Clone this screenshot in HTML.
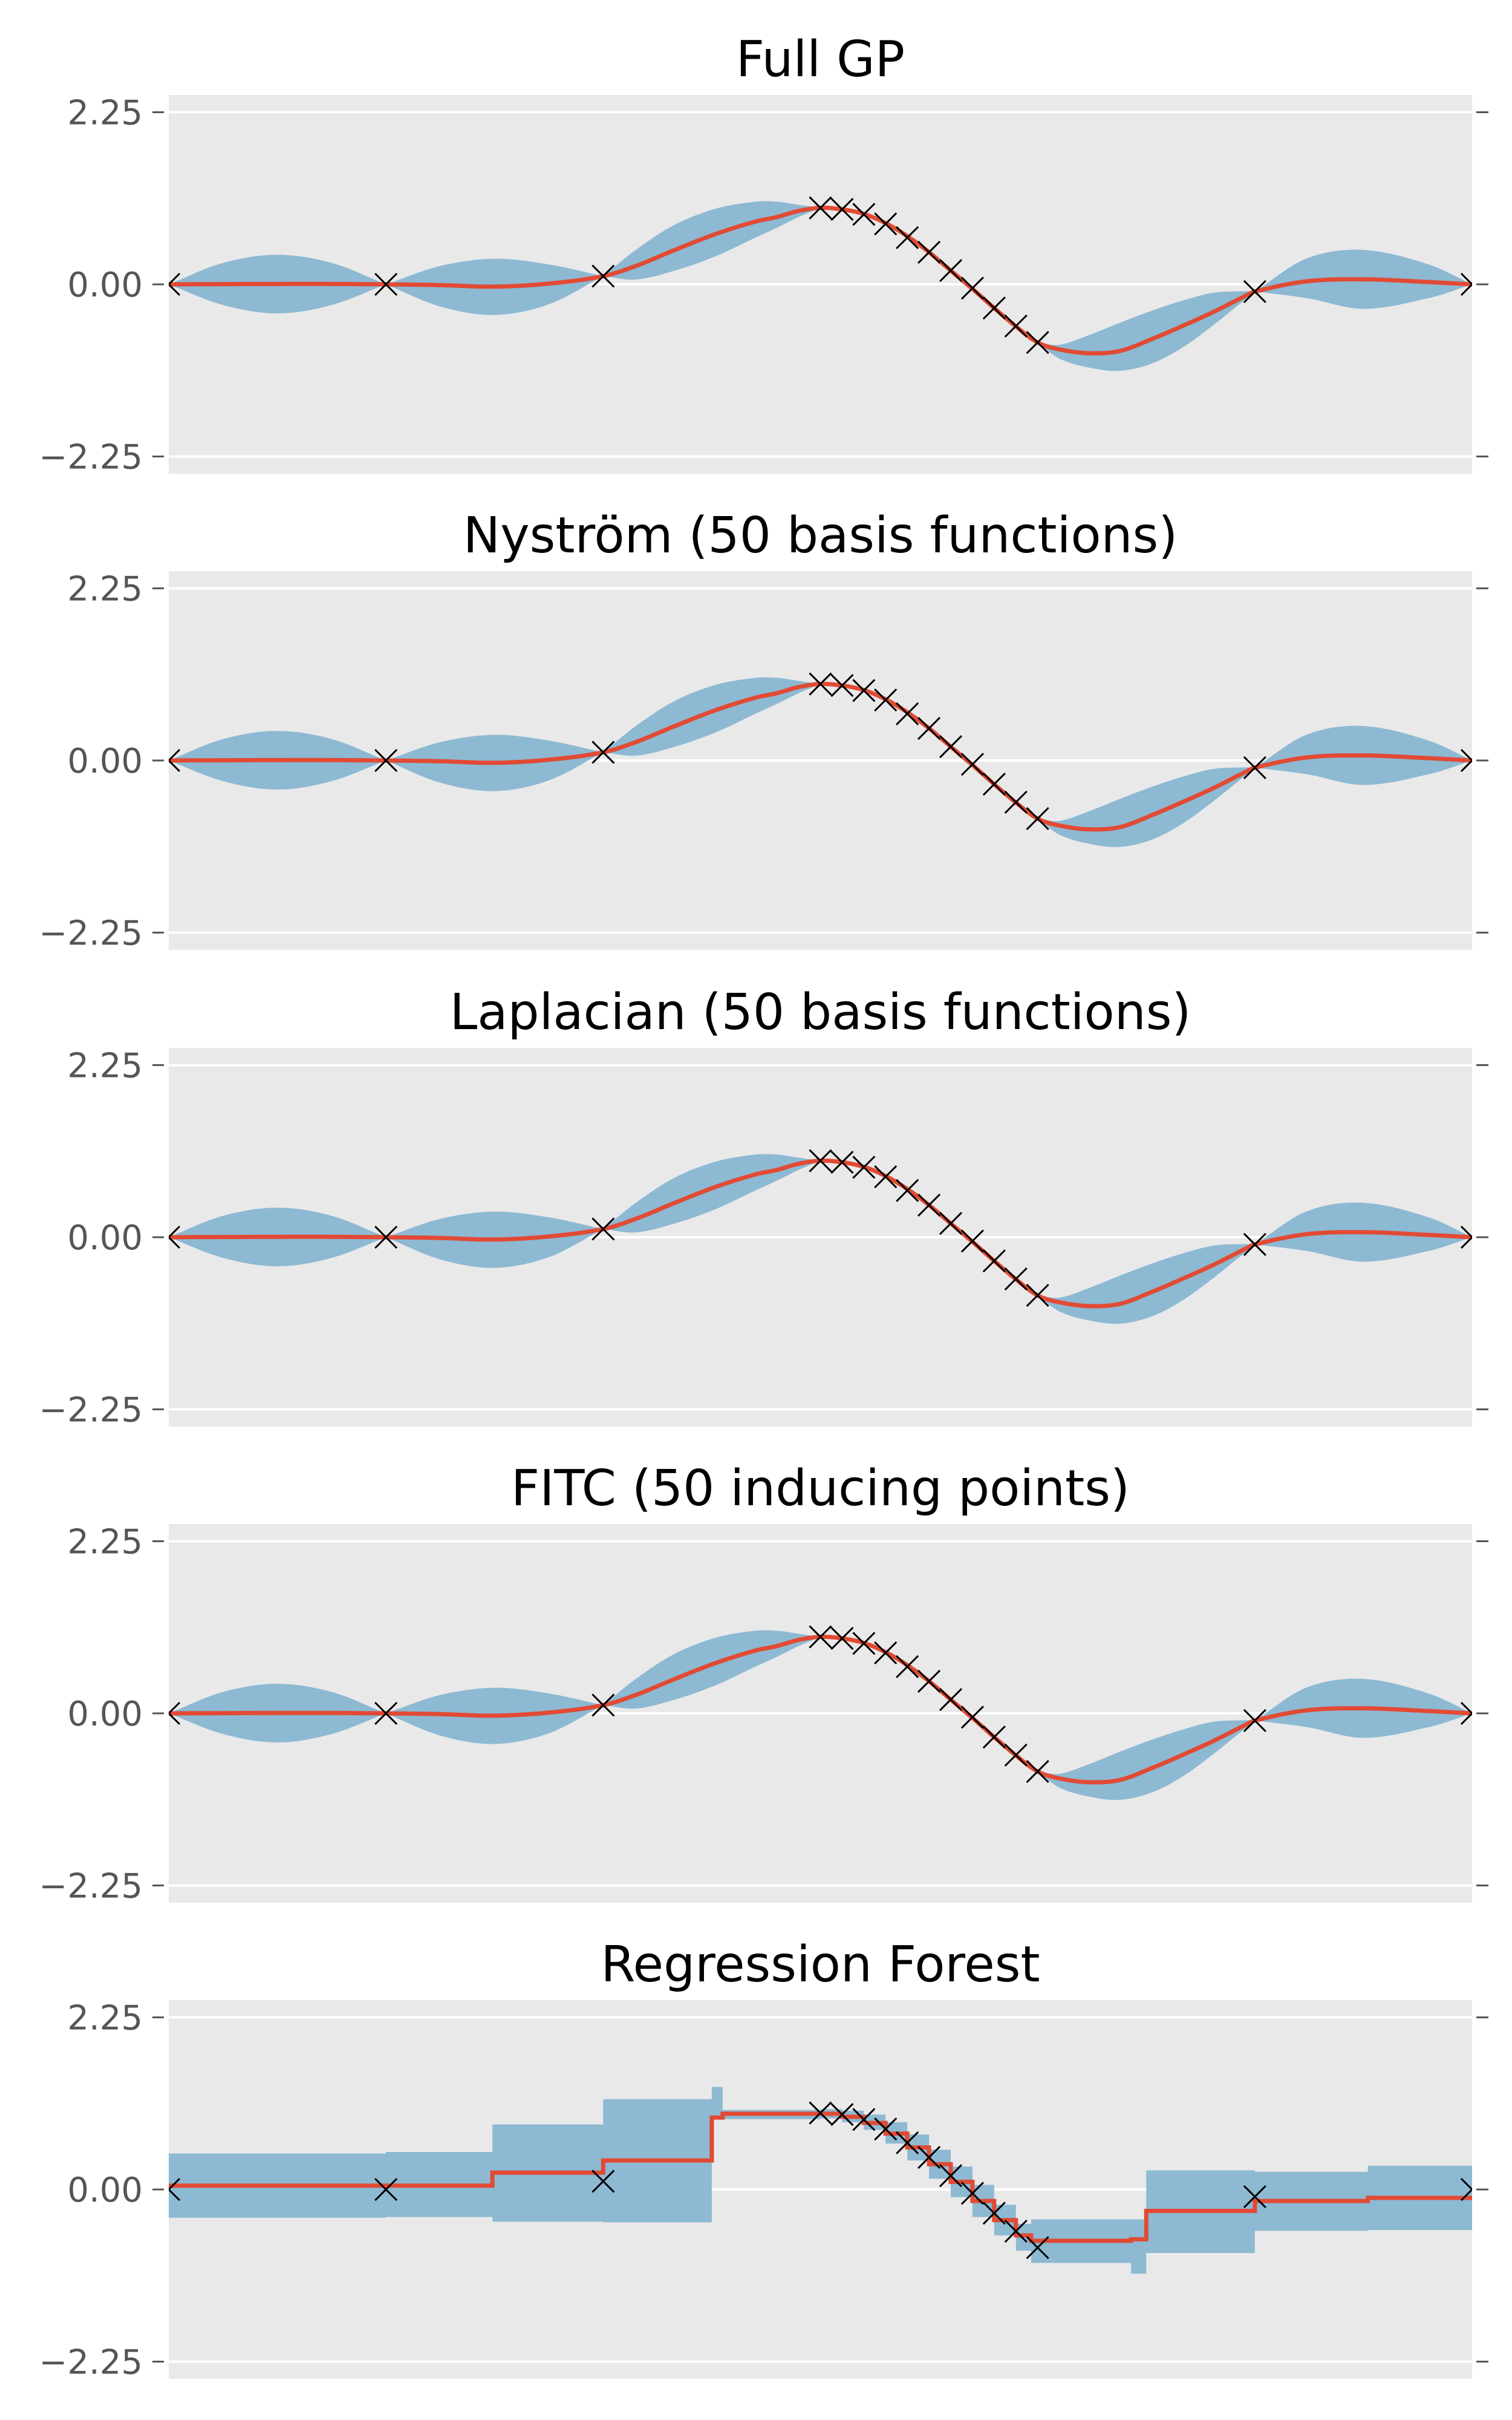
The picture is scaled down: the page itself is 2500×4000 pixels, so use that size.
<!DOCTYPE html>
<html><head><meta charset="utf-8"><style>
html,body{margin:0;padding:0;background:#fff;}
svg{display:block;}
text{font-family:"DejaVu Sans","Liberation Sans",sans-serif;}
</style></head>
<body>
<svg id="fig" width="2500" height="4000" viewBox="0 0 2500 4000" xmlns="http://www.w3.org/2000/svg"></svg>
<script>
// ---- data ----
const titles = ["Full GP","Nyström (50 basis functions)","Laplacian (50 basis functions)","FITC (50 inducing points)","Regression Forest"];
const yTicks = [2.25, 0.00, -2.25];
const yTickLabels = ["2.25","0.00","\u22122.25"];
const dataX = [0,1,2,3,3.1,3.2,3.3,3.4,3.5,3.6,3.7,3.8,3.9,4,5,6];
const dataY = [0,0,0.107,1.0,0.98,0.915,0.79,0.61,0.42,0.18,-0.05,-0.31,-0.545,-0.76,-0.094,0];
const gpX = [0,0.25,0.5,0.75,1,1.25,1.5,1.75,2,2.15,2.33,2.52,2.7,2.8,2.9,3,3.1,3.2,3.3,3.4,3.5,3.6,3.7,3.8,3.9,4,4.1,4.24,4.38,4.53,4.67,4.81,4.95,5,5.24,5.5,5.8,6];
const gpMean = [0,0.003,0.005,0.005,0,-0.01,-0.03,0.01,0.107,0.24,0.45,0.66,0.82,0.88,0.96,1.0,0.98,0.92,0.80,0.63,0.42,0.18,-0.06,-0.31,-0.55,-0.76,-0.85,-0.90,-0.87,-0.71,-0.54,-0.36,-0.16,-0.094,0.04,0.066,0.03,0];
const gpUpper = [0,0.28,0.386,0.28,0,0.24,0.335,0.26,0.107,0.45,0.78,0.99,1.08,1.08,1.04,1.0,0.98,0.92,0.80,0.63,0.42,0.18,-0.06,-0.31,-0.55,-0.76,-0.79,-0.66,-0.50,-0.34,-0.21,-0.11,-0.09,-0.094,0.34,0.45,0.26,0];
const gpLower = [0,-0.27,-0.38,-0.27,0,-0.29,-0.40,-0.26,0.107,0.063,0.18,0.37,0.61,0.74,0.88,1.0,0.98,0.92,0.80,0.63,0.42,0.18,-0.06,-0.31,-0.55,-0.76,-0.97,-1.09,-1.13,-1.03,-0.82,-0.53,-0.21,-0.094,-0.18,-0.32,-0.18,0];
const forestEdges = [0,1.0,1.49,2.0,2.5,2.55,3.0,3.1,3.2,3.3,3.4,3.5,3.6,3.7,3.8,3.9,3.97,4.43,4.5,5.0,5.52,6];
const forestMean = [0.05,0.05,0.22,0.38,0.94,0.99,0.99,0.95,0.87,0.73,0.55,0.33,0.10,-0.15,-0.40,-0.60,-0.67,-0.65,-0.28,-0.15,-0.11];
const forestUpper = [0.47,0.49,0.85,1.18,1.34,1.04,1.05,1.03,0.98,0.88,0.72,0.52,0.30,0.06,-0.20,-0.45,-0.39,-0.39,0.25,0.23,0.31];
const forestLower = [-0.37,-0.36,-0.42,-0.43,0.92,0.92,0.93,0.88,0.78,0.60,0.38,0.14,-0.10,-0.36,-0.60,-0.80,-0.96,-1.10,-0.83,-0.54,-0.53];

const NS="http://www.w3.org/2000/svg";
const svg=document.getElementById('fig');
const L=279,R=2434,H=626,tops=[157,944,1732,2519,3306];
const XMIN=0,XMAX=6,YLIM=2.475;
function mk(tag,attrs,parent){const e=document.createElementNS(NS,tag);for(const k in attrs)e.setAttribute(k,attrs[k]);(parent||svg).appendChild(e);return e;}
function sx(v){return L+(v-XMIN)/(XMAX-XMIN)*(R-L);}
// cubic Hermite sampling of (xs,ys) over index range [a,b]
function sampleSeg(xs,ys,a,b,per){
  const out=[];const m=[];
  for(let i=a;i<=b;i++){
    if(i===a)m.push((ys[a+1]-ys[a])/(xs[a+1]-xs[a]));
    else if(i===b)m.push((ys[b]-ys[b-1])/(xs[b]-xs[b-1]));
    else m.push((ys[i+1]-ys[i-1])/(xs[i+1]-xs[i-1]));
  }
  for(let i=a;i<b;i++){
    const h=xs[i+1]-xs[i],m0=m[i-a],m1=m[i+1-a];
    for(let k=0;k<per;k++){const t=k/per,t2=t*t,t3=t2*t;
      out.push([xs[i]+t*h,(2*t3-3*t2+1)*ys[i]+(t3-2*t2+t)*h*m0+(-2*t3+3*t2)*ys[i+1]+(t3-t2)*h*m1]);}
  }
  return out;
}
function sampleBroken(xs,ys,breaks,per){
  let out=[];let a=0;
  for(let i=1;i<xs.length;i++){if(breaks[i]||i===xs.length-1){out=out.concat(sampleSeg(xs,ys,a,i,per));a=i;}}
  out.push([xs[xs.length-1],ys[ys.length-1]]);return out;
}

tops.forEach((top,pi)=>{
  const sy=v=>top+H/2-v/YLIM*(H/2);
  const g=mk('g',{});
  
  
  const cp=mk('clipPath',{id:'clip'+pi},g);mk('rect',{x:L,y:top,width:R-L,height:H},cp);
  const bg=mk('rect',{x:L,y:top,width:R-L,height:H,fill:'#e9e9e9'},g);
  
  const t=mk('text',{x:(L+R)/2,y:top-31,'text-anchor':'middle','font-size':82,fill:'#000'},g);
  t.textContent=titles[pi];
  
  yTicks.forEach((v,i)=>{
    const y=sy(v);
    const gl=mk('line',{x1:L,x2:R,y1:y,y2:y,stroke:'#fff','stroke-width':4},g);
    
    mk('line',{x1:252,x2:271,y1:y,y2:y,stroke:'#555','stroke-width':3},g);
    mk('line',{x1:2441,x2:2461,y1:y,y2:y,stroke:'#555','stroke-width':3},g);
    const tl=mk('text',{x:236,y:y+20,'text-anchor':'end','font-size':56,fill:'#555'},g);
    tl.textContent=yTickLabels[i];
    
  });
  const pg=mk('g',{'clip-path':'url(#clip'+pi+')'},g);
  if(pi<4){
    const pinch=gpX.map((x,i)=>Math.abs(gpUpper[i]-gpLower[i])<1e-6 && Math.abs(gpUpper[i]-gpMean[i])<1e-6 && (i===0||Math.abs(gpUpper[i-1]-gpLower[i-1])>1e-6||Math.abs(gpUpper[i+1]-gpLower[i+1])>1e-6));
    const up=sampleBroken(gpX,gpUpper,pinch,24).map(p=>sx(p[0]).toFixed(1)+","+sy(p[1]).toFixed(1));
    const lo=sampleBroken(gpX,gpLower,pinch,24).map(p=>sx(p[0]).toFixed(1)+","+sy(p[1]).toFixed(1));
    const band=mk('path',{d:"M"+up.join(" L")+" L"+lo.reverse().join(" L")+" Z",fill:'#8db9d3'},pg);
    
    const mid=sampleBroken(gpX,gpMean,gpX.map(()=>false),24).map(p=>sx(p[0]).toFixed(1)+","+sy(p[1]).toFixed(1));
    const ml=mk('path',{d:"M"+mid.join(" L"),fill:'none',stroke:'#e24a33','stroke-width':7,'stroke-linejoin':'round'},pg);
    
  } else {
    let du="",dl="",dm="";
    for(let i=0;i<forestMean.length;i++){
      const x0=sx(forestEdges[i]),x1=sx(forestEdges[i+1]);
      du+=(i?"L":"M")+x0+","+sy(forestUpper[i])+" L"+x1+","+sy(forestUpper[i])+" ";
      dm+=(i?"L":"M")+x0+","+sy(forestMean[i])+" L"+x1+","+sy(forestMean[i])+" ";
    }
    for(let i=forestMean.length-1;i>=0;i--){
      const x0=sx(forestEdges[i]),x1=sx(forestEdges[i+1]);
      dl+="L"+x1+","+sy(forestLower[i])+" L"+x0+","+sy(forestLower[i])+" ";
    }
    const band=mk('path',{d:du+dl+"Z",fill:'#8db9d3'},pg);
    
    const ml=mk('path',{d:dm,fill:'none',stroke:'#e24a33','stroke-width':7},pg);
    
  }
  dataX.forEach((x,i)=>{
    const cx=sx(x),cy=sy(dataY[i]),s=18;
    const m=mk('path',{d:`M${cx-s},${cy-s} L${cx+s},${cy+s} M${cx-s},${cy+s} L${cx+s},${cy-s}`,stroke:'#000','stroke-width':3,fill:'none'},pg);
    
  });
});
</script>
</body></html>
